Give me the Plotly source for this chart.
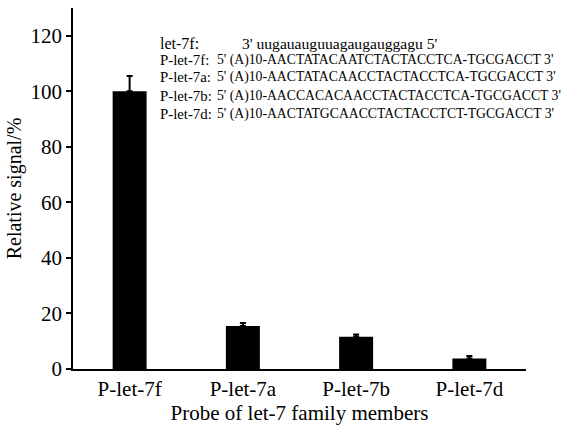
import plotly.graph_objects as go

categories = ["P-let-7f", "P-let-7a", "P-let-7b", "P-let-7d"]
values = [100, 15.5, 11.6, 3.8]
errors_up = [5.5, 1.1, 0.8, 0.9]

seq_names = ["let-7f:", "P-let-7f:", "P-let-7a:", "P-let-7b:", "P-let-7d:"]
seq_texts = [
    "3' uugauauguuagaugauggagu 5'",
    "5' (A)10-AACTATACAATCTACTACCTCA-TGCGACCT 3'",
    "5' (A)10-AACTATACAACCTACTACCTCA-TGCGACCT 3'",
    "5' (A)10-AACCACACAACCTACTACCTCA-TGCGACCT 3'",
    "5' (A)10-AACTATGCAACCTACTACCTCT-TGCGACCT 3'",
]
seq_y = [0.903, 0.856, 0.809, 0.756, 0.706]

FONT = "Liberation Serif"

fig = go.Figure()
fig.add_trace(go.Bar(
    x=categories, y=values, width=0.3,
    marker=dict(color="black", line=dict(width=0)),
    error_y=dict(type="data", symmetric=False, array=errors_up,
                 arrayminus=[0] * len(errors_up), color="black",
                 thickness=2, width=3),
))

ann = []
for i, (n, t, yy) in enumerate(zip(seq_names, seq_texts, seq_y)):
    ann.append(dict(x=0.188, y=yy, xref="paper", yref="paper", text=n,
                    showarrow=False, xanchor="left", yanchor="middle",
                    font=dict(family=FONT, size=14.8 if i else 16, color="black")))
    ann.append(dict(x=0.369 if i == 0 else 0.313, y=yy, xref="paper", yref="paper",
                    text=t, showarrow=False, xanchor="left", yanchor="middle",
                    font=dict(family=FONT, size=13.7 if i else 15.6, color="black")))

fig.update_layout(
    width=561, height=434,
    margin=dict(l=73, r=35, t=8, b=65),
    paper_bgcolor="white", plot_bgcolor="white",
    showlegend=False,
    font=dict(family=FONT, size=21, color="black"),
    annotations=ann,
    xaxis=dict(range=[-0.5, 3.5], showline=True, linecolor="black", linewidth=1.5,
               ticks="", showgrid=False, zeroline=False,
               tickfont=dict(family=FONT, size=21),
               title=dict(text="Probe of let-7 family members", standoff=2,
                          font=dict(family=FONT, size=21))),
    yaxis=dict(range=[0, 130], tickvals=[0, 20, 40, 60, 80, 100, 120],
               showline=True, linecolor="black", linewidth=1.5,
               ticks="outside", ticklen=5, tickwidth=1.5, tickcolor="black",
               showgrid=False, zeroline=False,
               tickfont=dict(family=FONT, size=21),
               title=dict(text="Relative signal/%", standoff=4,
                          font=dict(family=FONT, size=20))),
)

fig.write_html("out.html")
